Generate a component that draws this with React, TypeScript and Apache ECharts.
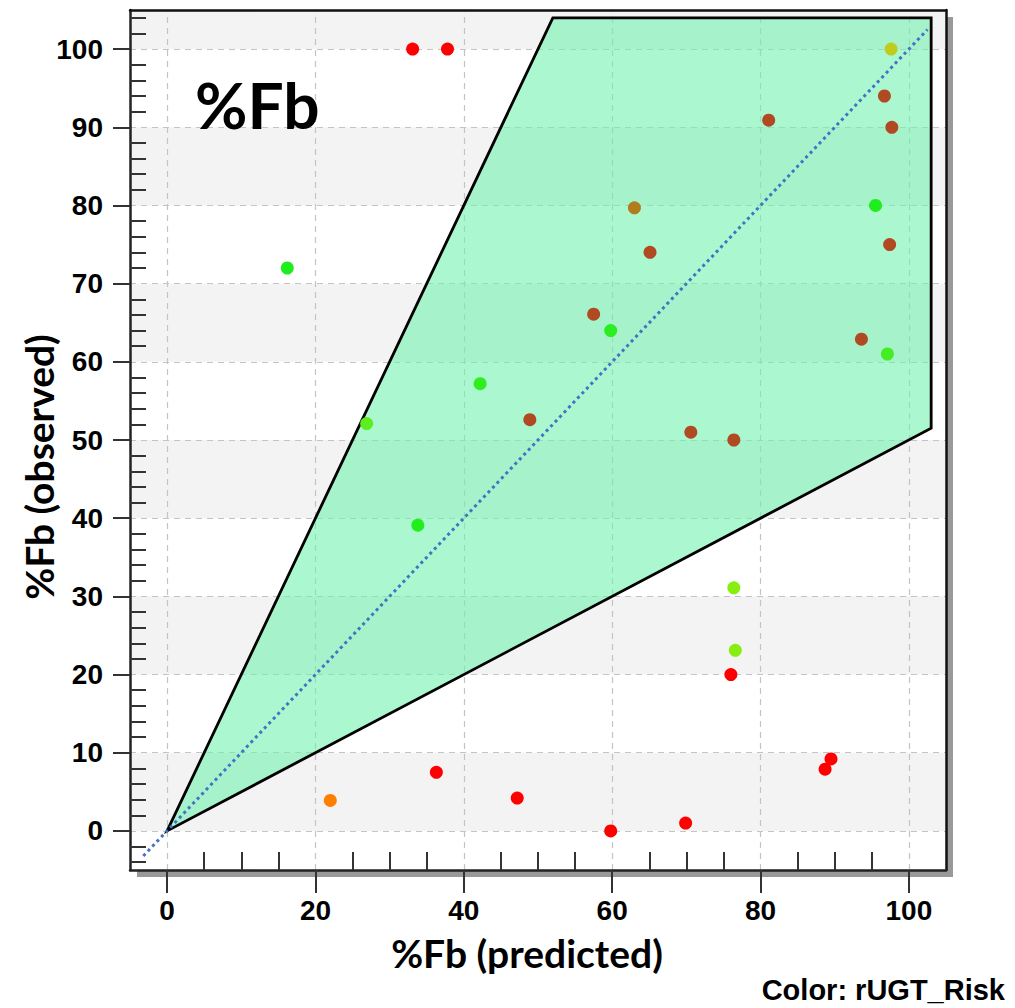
import React, { useEffect, useRef } from "react";
import * as echarts from "echarts";

// ---- data ----
const predicted = [33.1, 37.8, 97.6, 96.7, 81.1, 97.7, 95.5, 63.0, 65.1, 97.4, 16.2, 57.5, 59.8, 93.6, 97.1, 42.2, 48.9, 26.9, 70.6, 76.4, 33.8, 76.4, 76.6, 76.0, 36.3, 22.0, 47.2, 59.8, 69.9, 88.7, 89.5];
const observed = [100, 100, 100, 94.0, 90.9, 90.0, 80.0, 79.7, 74.0, 75.0, 72.0, 66.1, 64.0, 62.9, 61.0, 57.2, 52.6, 52.1, 51.0, 50.0, 39.1, 31.1, 23.1, 20.0, 7.5, 3.9, 4.2, 0.0, 1.0, 7.9, 9.2];
const riskColor = ["#ff0000", "#ff0000", "#bfcb1f", "#b04a22", "#b04a22", "#b04a22", "#1eee1e", "#b07c1e", "#b04a22", "#b04a22", "#1eee1e", "#b04a22", "#2aee1e", "#b04a22", "#44ee22", "#30ee1e", "#b04a22", "#5cee1e", "#b04a22", "#b04a22", "#22ee1e", "#88ee11", "#88ee11", "#ff0000", "#ff0000", "#ff8000", "#ff0000", "#ff0000", "#ff0000", "#ff0000", "#ff0000"];

const acceptRegion = [[0, 0], [52, 104], [103, 104], [103, 51.5]];
const identityLine = [[-3.2, -3.2], [102.5, 102.5]];

const xMajor = [0, 20, 40, 60, 80, 100];
const xMinor = [5, 10, 15, 25, 30, 35, 45, 50, 55, 65, 70, 75, 85, 90, 95];
const yMajor = [0, 10, 20, 30, 40, 50, 60, 70, 80, 90, 100];
const yMinor = [-4, -2, 2, 4, 6, 8, 12, 14, 16, 18, 22, 24, 26, 28, 32, 34, 36, 38, 42, 44, 46, 48, 52, 54, 56, 58, 62, 64, 66, 68, 72, 74, 76, 78, 82, 84, 86, 88, 92, 94, 96, 98, 102, 104];
const grayBands = [[100, 105], [80, 90], [60, 70], [40, 50], [20, 30], [0, 10]];

const AX_MIN = -5;
const AX_MAX = 105;

export default function App() {
  const ref = useRef<HTMLDivElement>(null);
  useEffect(() => {
    if (!ref.current) return;
    const chart = echarts.init(ref.current, undefined, { renderer: "svg" });
    const labelFont = { fontFamily: "Liberation Sans", fontWeight: "bold" as const, fontSize: 28, color: "#000" };
    const tickLine = { color: "#333", width: 2 };
    const option: any = {
      animation: false,
      backgroundColor: "#fff",
      grid: {
        left: 130, top: 10, right: 69, bottom: 138,
        show: true, backgroundColor: "#fff", borderWidth: 0,
        shadowColor: "rgba(0,0,0,0.4)", shadowOffsetX: 7, shadowOffsetY: 7, shadowBlur: 1,
      },
      xAxis: [
        {
          type: "value", min: AX_MIN, max: AX_MAX, position: "bottom", z: 10,
          axisLine: { show: true, onZero: false, lineStyle: { color: "#222", width: 2.5 } },
          axisTick: { show: true, customValues: xMajor, length: 23, inside: false, lineStyle: tickLine },
          axisLabel: { show: true, customValues: xMajor, margin: 26, ...labelFont },
          splitLine: { show: false },
        },
        {
          type: "value", min: AX_MIN, max: AX_MAX, position: "bottom", z: 10,
          axisLine: { show: false, onZero: false },
          axisTick: { show: true, customValues: xMinor, length: 18, inside: true, lineStyle: tickLine },
          axisLabel: { show: false },
          splitLine: { show: false },
        },
        {
          type: "value", min: AX_MIN, max: AX_MAX, position: "top", z: 10,
          axisLine: { show: true, onZero: false, lineStyle: { color: "#111", width: 2.5 } },
          axisTick: { show: false }, axisLabel: { show: false }, splitLine: { show: false },
        },
      ],
      yAxis: [
        {
          type: "value", min: AX_MIN, max: AX_MAX, position: "left", z: 10,
          axisLine: { show: true, onZero: false, lineStyle: { color: "#222", width: 2.5 } },
          axisTick: { show: true, customValues: yMajor, length: 17, inside: false, lineStyle: tickLine },
          axisLabel: { show: true, customValues: yMajor, margin: 27, ...labelFont },
          splitLine: { show: false },
        },
        {
          type: "value", min: AX_MIN, max: AX_MAX, position: "left", z: 10,
          axisLine: { show: false, onZero: false },
          axisTick: { show: true, customValues: yMinor, length: 16, inside: true, lineStyle: tickLine },
          axisLabel: { show: false },
          splitLine: { show: false },
        },
        {
          type: "value", min: AX_MIN, max: AX_MAX, position: "right", z: 10,
          axisLine: { show: true, onZero: false, lineStyle: { color: "#111", width: 2.5 } },
          axisTick: { show: false }, axisLabel: { show: false }, splitLine: { show: false },
        },
      ],
      series: [
        {
          name: "background",
          type: "line",
          data: [],
          z: 1,
          silent: true,
          markArea: {
            silent: true,
            z: 0,
            itemStyle: { color: "#f3f3f3" },
            data: grayBands.map(([a, b]) => [{ yAxis: a }, { yAxis: b }]),
          },
          markLine: {
            silent: true,
            z: 1,
            symbol: "none",
            label: { show: false },
            lineStyle: { color: "#c4c4c4", type: [6, 5], width: 1.2 },
            data: [
              ...xMajor.map((v) => ({ xAxis: v })),
              ...yMajor.map((v) => ({ yAxis: v })),
            ],
          },
        },
        {
          name: "region",
          type: "custom",
          z: 2,
          silent: true,
          data: [0],
          renderItem: (params: any, api: any) => ({
            type: "polygon",
            shape: { points: acceptRegion.map((p) => api.coord(p)) },
            style: { fill: "rgba(110,242,172,0.58)", stroke: "#000", lineWidth: 2.8 },
          }),
        },
        {
          name: "identity",
          type: "line",
          z: 3,
          silent: true,
          symbol: "none",
          data: identityLine,
          lineStyle: { color: "#4472c4", width: 3, type: [3, 3.5] },
        },
        {
          name: "%Fb",
          type: "scatter",
          z: 6,
          symbol: "circle",
          symbolSize: 13,
          itemStyle: { opacity: 1 },
          data: predicted.map((x, i) => ({ value: [x, observed[i]], itemStyle: { color: riskColor[i], opacity: 1 } })),
        },
      ],
      graphic: [
        {
          type: "text", left: 195, top: 72, z: 20,
          style: { text: "%Fb", font: "bold 64px Lato", fill: "#000" },
        },
        {
          type: "text", x: 527, y: 953, z: 20,
          style: { text: "%Fb (predicted)", font: "bold 39px Lato", fill: "#000", textAlign: "center", textVerticalAlign: "middle" },
        },
        {
          type: "text", x: 39, y: 467, rotation: Math.PI / 2, z: 20,
          style: { text: "%Fb (observed)", font: "bold 39px Lato", fill: "#000", textAlign: "center", textVerticalAlign: "middle" },
        },
        {
          type: "text", x: 1005, y: 990, z: 20,
          style: { text: "Color: rUGT_Risk", font: "bold 29px 'Liberation Sans'", fill: "#000", textAlign: "right", textVerticalAlign: "middle" },
        },
      ],
    };
    chart.setOption(option);
    return () => chart.dispose();
  }, []);
  return <div ref={ref} style={{ position: "fixed", left: 0, top: 0, width: 1015, height: 1008 }} />;
}
